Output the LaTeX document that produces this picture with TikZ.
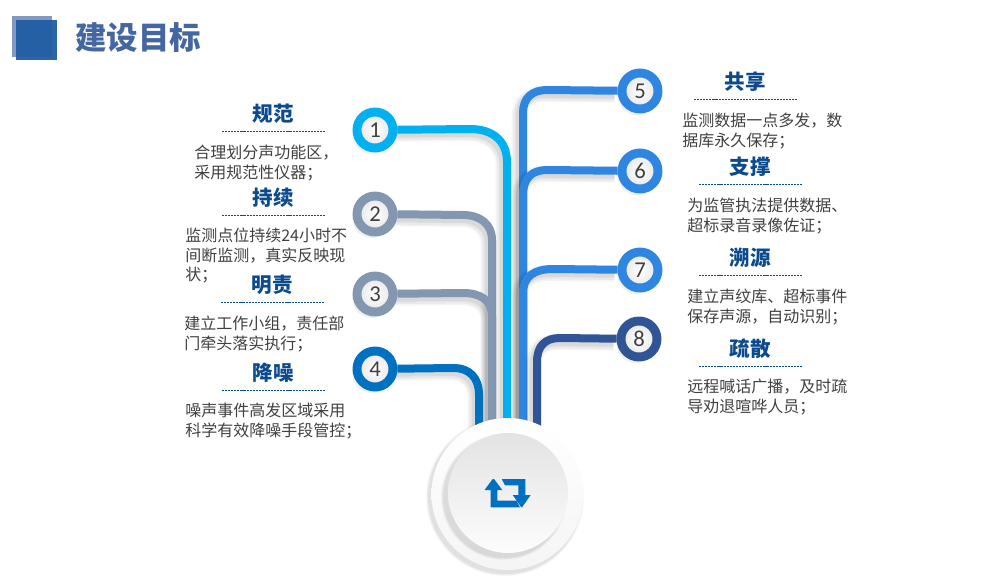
\documentclass[tikz,border=0pt]{standalone}
\usepackage{fontspec}
\setmainfont{Noto Sans CJK SC}
\newfontfamily\numfont{Carlito}
\usetikzlibrary{shadows,calc,backgrounds}
\definecolor{tubecyan}{HTML}{00B0F0}
\definecolor{tubegray}{HTML}{8497B0}
\definecolor{tubeblue}{HTML}{0070C0}
\definecolor{tubesky}{HTML}{2E86E0}
\definecolor{tubenavy}{HTML}{2F5597}
\definecolor{headblue}{HTML}{0B4A8C}
\definecolor{titleblue}{HTML}{2F5597}
\tikzset{
  tube/.style={line width=6pt,
    preaction={draw=black,draw opacity=.04,line width=12pt,transform canvas={xshift=-2.5pt,yshift=-3pt}},
    preaction={draw=black,draw opacity=.05,line width=9.5pt,transform canvas={xshift=-2.5pt,yshift=-3pt}},
    preaction={draw=black,draw opacity=.07,line width=7pt,transform canvas={xshift=-2pt,yshift=-2.5pt}}},
  numdot/.style={circle,line width=6.7pt,minimum size=27pt,inner sep=0pt,
    inner color=white,outer color=black!10,text=black!75,
    font=\numfont\fontsize{17}{17}\selectfont,
    general shadow={shadow xshift=-2.5pt,shadow yshift=-3.5pt,shadow scale=1.06,fill=black,opacity=.06},
    general shadow={shadow xshift=-2pt,shadow yshift=-2.5pt,fill=black,opacity=.10}},
  headtext/.style={font=\fontsize{15.4}{15.4}\selectfont\bfseries,text=headblue,inner sep=0pt},
  bodytext/.style={font=\fontsize{12}{14.5}\selectfont,text=black!75,align=left,anchor=north west,inner sep=0pt},
  ruleline/.style={headblue,line width=.6pt,dash pattern=on 1.6pt off .7pt}
}
\begin{document}
\begin{tikzpicture}[x=0.75pt,y=-0.75pt]
  \useasboundingbox (0,0) rectangle (990,585);

  % Title
  \fill[fill=titleblue!60] (12,16) rectangle (52,57);
  \fill[fill=titleblue!70!tubeblue,fill opacity=.95] (16,20) rectangle (57,60);
  \node[font=\fontsize{23.6}{23.6}\selectfont\bfseries,text=titleblue!90!white,inner sep=0pt,anchor=west] (title) at (75,38) {建设目标};

  % Numbered circles
  \foreach \id/\x/\y/\col in {1/375/130/tubecyan,2/375/214/tubegray,3/375/294/tubegray,4/375/369/tubeblue,
                              5/640/91/tubesky,6/640/171/tubesky,7/640/270/tubesky,8/639/339/tubenavy}
    \node[numdot,draw=\col] (n\id) at (\x,\y) {\id};

  % Free ends under the disc
  \foreach \id/\x in {1/507,2/492,3/492,4/479,5/523,6/523,7/523,8/537}
    \coordinate (e\id) at (\x,450);

  % Tubes
  \begin{scope}[on background layer]
    \draw[tube,tubesky] (n5) -- (547,90) .. controls (532,90) and (523,98) .. (523,113) -- (e5);
    \draw[tube,tubegray] (n2) -- (463,215) .. controls (480,215) and (492,224) .. (492,240) -- (e2);
    \draw[tube,tubegray] (n3) -- (463,293) .. controls (480,293) and (492,300) .. (492,316) -- (e3);
    \draw[tube,tubeblue] (n4) -- (453,368) .. controls (470,368) and (479,378) .. (479,395) -- (e4);
    \draw[tube,tubecyan] (n1) -- (470,129) .. controls (494,129) and (507,142) .. (507,162) -- (e1);
    \draw[tube,tubesky] (n6) -- (547,170) .. controls (532,170) and (523,178) .. (523,195) -- (e6);
    \draw[tube,tubesky] (n7) -- (553,269) .. controls (535,269) and (523,276) .. (523,293) -- (e7);
    \draw[tube,tubenavy] (n8) -- (560,338) .. controls (545,338) and (537,346) .. (537,362) -- (e8);
  \end{scope}

  % Centre disc
  \foreach \r/\op in {79/.03,78/.04,77/.05}
    \fill[black,opacity=\op] (505,497) circle (\r);
  \node[circle,minimum size=114pt,inner sep=0pt,top color=white,bottom color=black!4] (outerdisc) at (507.5,494) {};
  \foreach \r/\op in {63/.03,62/.04,61/.05}
    \fill[black,opacity=\op] (504,497) circle (\r);
  \node[circle,minimum size=90pt,inner sep=0pt,top color=black!11,bottom color=black!1] (innerdisc) at (508,493) {};

  % Arrows icon
  \fill[tubeblue] (484.5,490) -- (492.7,479) -- (494,479) -- (502.3,490) -- (497.3,490) -- (497.3,500.7) -- (516.7,500.7) -- (520,507.3) -- (490.7,507.3) -- (490.7,490) -- cycle;
  \fill[tubeblue] (501.7,479) -- (525.3,479) -- (525.3,495) -- (530.7,495) -- (522,507.3) -- (521.3,507.3) -- (512.7,495) -- (518.3,495) -- (518.3,485.3) -- (505,485.3) -- cycle;

  % Left and right texts
  \foreach \id/\hx/\hy/\tx/\ty/\head/\body in {
    1/273/114/194/145/规范/{合理划分声功能区，\\采用规范性仪器；},
    2/273/198/185/228/持续/{监测点位持续24小时不\\间断监测，真实反映现\\状；},
    3/272/285/184/316/明责/{建立工作小组，责任部\\门牵头落实执行；},
    4/273/373/185/403/降噪/{噪声事件高发区域采用\\科学有效降噪手段管控；},
    5/745/82/682/113/共享/{监测数据一点多发，数\\据库永久保存；},
    6/750/167/687/198/支撑/{为监管执法提供数据、\\超标录音录像佐证；},
    7/750/258/687/289/溯源/{建立声纹库、超标事件\\保存声源，自动识别；},
    8/750/349/687/379/疏散/{远程喊话广播，及时疏\\导劝退喧哗人员；}}
  {
    \node[headtext] (h\id) at (\hx,\hy) {\head};
    \node[bodytext] (b\id) at (\tx,\ty) {\body};
    \draw[ruleline] ($(h\id)+(-51,17.5)$) -- ($(h\id)+(52,17.5)$);
  }
\end{tikzpicture}
\end{document}
